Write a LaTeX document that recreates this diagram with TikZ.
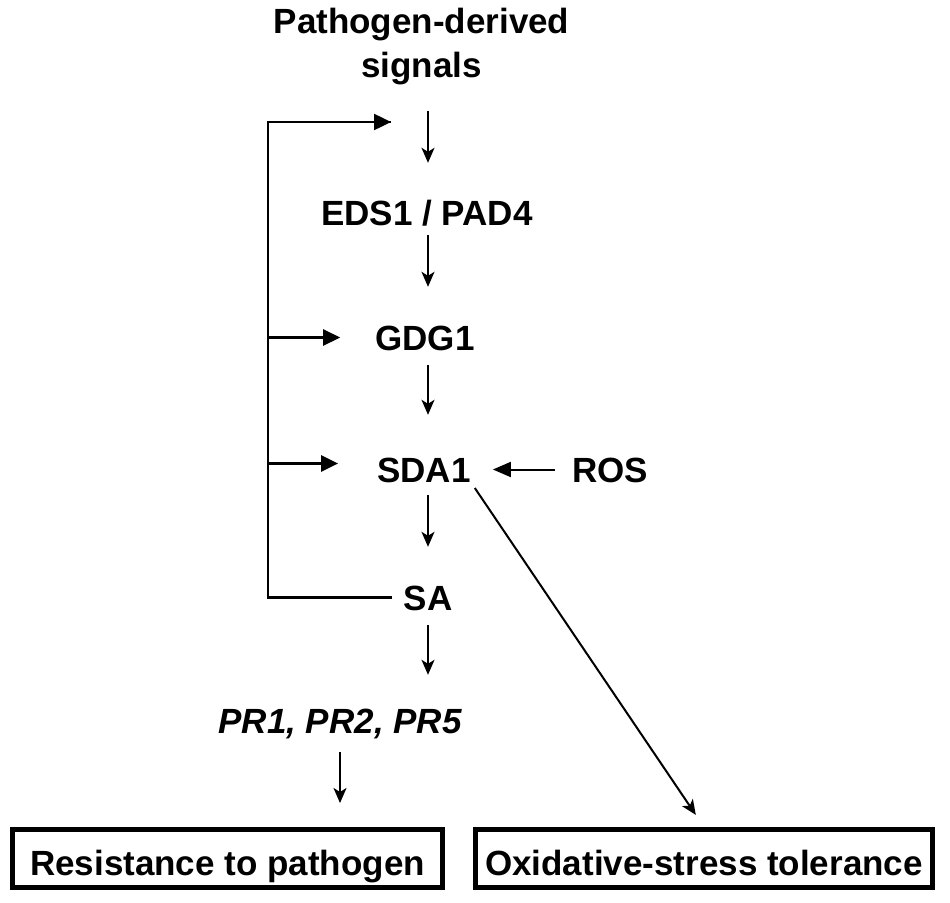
\documentclass[tikz,border=0pt]{standalone}
\usepackage{fontspec}
\setmainfont{Liberation Sans}
\usetikzlibrary{arrows.meta}
\begin{document}
\begin{tikzpicture}[x=1pt,y=-1pt,
  bigfont/.style={font=\fontsize{35pt}{44pt}\selectfont\bfseries},
  lbl/.style={bigfont, inner sep=0pt, text height=25pt, text depth=0pt, anchor=base},
  arr/.style={line width=2pt, -{Stealth[length=15pt,width=13pt,inset=4pt]}},
  solidarr/.style={line width=2pt, -{Triangle[length=18pt,width=15pt]}},
  fb/.style={line width=2.5pt, line join=miter},
  fbarr/.style={line width=2.5pt, -{Triangle[length=17pt,width=16pt]}},
  outbox/.style={bigfont, draw, line width=5pt, inner sep=0pt, text height=33pt, text depth=0pt, minimum height=58pt}
]
\useasboundingbox (0,0) rectangle (950,902);

% nodes
\node[bigfont, inner sep=0pt, align=center, anchor=north] (pds) at (421.5,8) {Pathogen-derived\\signals};
\node[lbl] (eds) at (427,225) {EDS1 / PAD4};
\node[lbl] (gdg) at (425,350) {GDG1};
\node[lbl] (sda) at (424,482) {SDA1};
\node[lbl] (ros) at (610,482) {ROS};
\node[lbl] (sa) at (428,610) {SA};
\node[lbl, font=\fontsize{35pt}{44pt}\selectfont\bfseries\itshape] (pr) at (340,733) {PR1, PR2, PR5};
\node[outbox, minimum width=430pt] (res) at (227.5,858.5) {Resistance to pathogen};
\node[outbox, minimum width=457pt] (ox) at (704,858.5) {Oxidative-stress tolerance};

% feedback coordinates
\coordinate (corner) at (268,122);
\coordinate (topin) at (391,122);

% main chain
\draw[arr, shorten <=25.6pt, shorten >=37pt] (pds.south -| sa.center) -- (eds.north -| sa.center);
\draw[arr, shorten <=10pt, shorten >=38pt] (eds.south -| sa.center) -- (gdg.north -| sa.center);
\draw[arr, shorten <=15pt, shorten >=42pt] (gdg.south -| sa.center) -- (sda.north -| sa.center);
\draw[arr, shorten <=13pt, shorten >=38pt] (sda.south -| sa.center) -- (sa.north);
\draw[arr, shorten <=15pt, shorten >=33pt] (sa.south) -- (pr.north -| sa.center);
\draw[arr, shorten <=19pt, shorten >=24pt] (pr.south) -- (res.north -| pr.south);

% ROS and oxidative branch
\draw[solidarr, shorten <=17pt, shorten >=22pt] (ros.west) -- (sda.east);
\draw[arr, shorten <=7pt, shorten >=14.6pt] (sda.south east) -- (ox.north);

% feedback loop
\draw[fb] ([xshift=-11pt]sa.west) -| (corner) -- (topin);
\draw[fbarr] (corner) -- (topin);
\draw[fbarr, shorten >=35pt] (corner |- gdg.west) -- (gdg.west);
\draw[fbarr, shorten >=39pt] ([yshift=6pt]sda.west -| corner) -- ([yshift=6pt]sda.west);
\end{tikzpicture}
\end{document}
